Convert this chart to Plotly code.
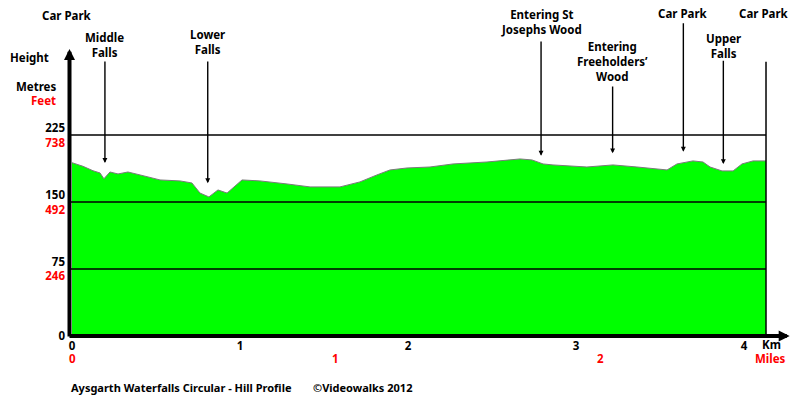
import plotly.graph_objects as go

# ---------------- data ----------------
dist_km = [0.0, 0.065, 0.125, 0.167, 0.190, 0.226, 0.274, 0.333, 0.405, 0.524,
           0.643, 0.714, 0.762, 0.815, 0.869, 0.923, 1.012, 1.119, 1.280, 1.417,
           1.595, 1.714, 1.815, 1.893, 1.994, 2.131, 2.268, 2.470, 2.667, 2.738,
           2.804, 2.863, 3.065, 3.220, 3.363, 3.542, 3.601, 3.696, 3.756, 3.798,
           3.869, 3.935, 3.988, 4.054, 4.131]
elev_m = [194, 190, 185, 182.5, 176, 183.6, 181.4, 183.6, 180.3, 174.7,
          173.6, 171.3, 160, 155.7, 163.5, 160, 174.7, 173.6, 170.2, 166.9,
          166.9, 172.5, 180.3, 185.9, 188.1, 189.2, 192.6, 194.8, 198.2, 197.1,
          192.6, 191.5, 189.2, 191.5, 189.2, 185.9, 192.6, 196, 194.8, 189.2,
          184.8, 184.8, 192.6, 196, 196]

height_ticks_m = [0, 75, 150, 225]
height_ticks_ft = ["", "246", "492", "738"]
km_ticks = [0, 1, 2, 3, 4]
mile_labels = ["0", "1", "2"]
mile_label_km = [0, 1.571, 3.145]

landmark_names = ["Middle<br>Falls", "Lower<br>Falls", "Entering St<br>Josephs Wood",
                  "Entering<br>Freeholders’<br>Wood", "Car Park", "Upper<br>Falls"]
landmark_km = [0.196, 0.808, 2.792, 3.218, 3.639, 3.877]
landmark_tip_m = [193.7, 171, 201.8, 204.5, 206.3, 192.5]
landmark_tail_m = [309, 309, 331.4, 281, 351.9, 309.8]
landmark_label_m = [325.8, 329.1, 351.5, 307.8, 360.5, 324.6]

# ---------------- layout constants ----------------
PX_PER_KM = 168.0
PX_PER_M = 0.8933
L, R, T, B = 66, 10, 0, 61
W, H = 800, 401
plot_w = W - L - R
plot_h = H - T - B
xmin = -6 / PX_PER_KM
xmax = xmin + plot_w / PX_PER_KM
ymin = -(plot_h - 336) / PX_PER_M
ymax = 336 / PX_PER_M
axis_x = -2.5 / PX_PER_KM

FONT = "Noto Sans"
BLACK = "#000000"
RED = "#ff0000"
GREEN = "#00ff00"
FS = 11.5


def b(s):
    return "<b>" + s + "</b>"


fig = go.Figure()
fig.add_trace(go.Scatter(
    x=dist_km, y=elev_m, mode="lines", fill="tozeroy",
    fillcolor=GREEN, line=dict(color="#7a7a7a", width=1),
    hoverinfo="skip", showlegend=False))

shapes = []
for g in height_ticks_m[1:]:
    shapes.append(dict(type="line", xref="x", yref="y", x0=axis_x, x1=dist_km[-1],
                       y0=g, y1=g, line=dict(color=BLACK, width=1.5), layer="above"))
# end-of-walk marker (Car Park)
shapes.append(dict(type="line", xref="x", yref="y", x0=dist_km[-1], x1=dist_km[-1],
                   y0=0, y1=307, line=dict(color=BLACK, width=1.5), layer="above"))

ann = []
lab_font = dict(family=FONT, size=FS, color=BLACK)
red_font = dict(family=FONT, size=FS, color=RED)
foot_font = dict(family=FONT, size=11, color=BLACK)
# axes arrows
ann.append(dict(x=axis_x, y=321.3, ax=axis_x, ay=-2.2, xref="x", yref="y",
                axref="x", ayref="y", text="", showarrow=True, arrowhead=2,
                arrowsize=0.55, arrowwidth=4, arrowcolor=BLACK))
ann.append(dict(x=xmax - 0.002, y=0, ax=axis_x - 1.5 / PX_PER_KM, ay=0, xref="x", yref="y",
                axref="x", ayref="y", text="", showarrow=True, arrowhead=2,
                arrowsize=0.55, arrowwidth=4, arrowcolor=BLACK))
# landmark arrows and labels
for name, k, tip, tail, lab in zip(landmark_names, landmark_km, landmark_tip_m,
                                   landmark_tail_m, landmark_label_m):
    ann.append(dict(x=k, y=tip, ax=k, ay=tail, xref="x", yref="y", axref="x", ayref="y",
                    text="", showarrow=True, arrowhead=2, arrowsize=0.7,
                    arrowwidth=1.4, arrowcolor=BLACK))
    ann.append(dict(x=k, y=lab, xref="x", yref="y", text=b(name), showarrow=False,
                    xanchor="center", yanchor="middle", font=lab_font))
# start / end car park labels
ann.append(dict(x=-0.03, y=359.3, xref="x", yref="y", text=b("Car Park"), showarrow=False,
                xanchor="center", yanchor="middle", font=lab_font))
ann.append(dict(x=4.119, y=360.5, xref="x", yref="y", text=b("Car Park"), showarrow=False,
                xanchor="center", yanchor="middle", font=lab_font))
# axis titles
ann.append(dict(x=(8 - L) / plot_w, y=312.3, xref="paper", yref="y", text=b("Height"),
                showarrow=False, xanchor="left", yanchor="middle", font=lab_font))
ann.append(dict(x=(58 - L) / plot_w, y=279.5, xref="paper", yref="y", text=b("Metres"),
                showarrow=False, xanchor="right", yanchor="middle", font=lab_font))
ann.append(dict(x=(58 - L) / plot_w, y=263.5, xref="paper", yref="y", text=b("Feet"),
                showarrow=False, xanchor="right", yanchor="middle", font=red_font))
# x-axis unit labels
ann.append(dict(x=4.161, y=(plot_h - (344 - T)) / plot_h, xref="x", yref="paper",
                text=b("Km"), showarrow=False, xanchor="center", yanchor="middle",
                font=lab_font))
ann.append(dict(x=4.155, y=(plot_h - (358 - T)) / plot_h, xref="x", yref="paper",
                text=b("Miles"), showarrow=False, xanchor="center", yanchor="middle",
                font=red_font))
for lab, k in zip(mile_labels, mile_label_km):
    ann.append(dict(x=k, y=(plot_h - (358 - T)) / plot_h, xref="x", yref="paper",
                    text=b(lab), showarrow=False, xanchor="center", yanchor="middle",
                    font=red_font))
# footer
ann.append(dict(x=(69 - L) / plot_w, y=(plot_h - (387 - T)) / plot_h, xref="paper",
                yref="paper", text=b("Aysgarth Waterfalls Circular - Hill Profile"),
                showarrow=False, xanchor="left", yanchor="middle", font=foot_font))
ann.append(dict(x=(311 - L) / plot_w, y=(plot_h - (387 - T)) / plot_h, xref="paper",
                yref="paper", text=b("©Videowalks 2012"),
                showarrow=False, xanchor="left", yanchor="middle", font=foot_font))

ytext = []
for m, ft in zip(height_ticks_m, height_ticks_ft):
    if ft:
        ytext.append(b(str(m)) + "<br><span style='color:" + RED + "'>" + b(ft) + "</span>")
    else:
        ytext.append(b(str(m)))

fig.update_layout(
    width=W, height=H,
    margin=dict(l=L, r=R, t=T, b=B, pad=0),
    paper_bgcolor="white", plot_bgcolor="white",
    shapes=shapes, annotations=ann, showlegend=False,
    xaxis=dict(range=[xmin, xmax], showgrid=False, zeroline=False, showline=False,
               tickvals=km_ticks, ticktext=[b(str(k)) for k in km_ticks], ticks="",
               tickfont=dict(family=FONT, size=FS, color=BLACK),
               ticklabelstandoff=-3, fixedrange=True),
    yaxis=dict(range=[ymin, ymax], showgrid=False, zeroline=False, showline=False,
               tickvals=height_ticks_m, ticktext=ytext,
               ticks="", tickfont=dict(family=FONT, size=FS, color=BLACK),
               fixedrange=True),
)

fig.write_html("out.html", config={"displayModeBar": False})
